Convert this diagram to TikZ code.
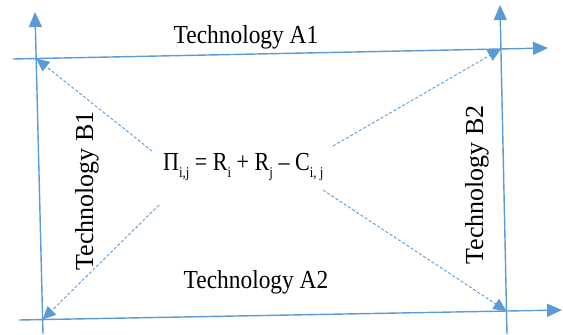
\documentclass[tikz,border=0pt]{standalone}
\usepackage{fontspec}
\setmainfont{Liberation Serif}
\usetikzlibrary{arrows.meta}
\definecolor{axisblue}{HTML}{5B9BD5}
% lowered, smaller index text
\newcommand\lowidx[1]{\raisebox{-0.28em}{\fontsize{15}{15}\selectfont #1}}
\begin{document}
\begin{tikzpicture}[x=1pt,y=-1pt,
  axis/.style={draw=axisblue,line width=1.4pt,-{Triangle[length=15pt,width=13pt]}},
  flow/.style={draw=axisblue,line width=0.9pt,dash pattern=on 3pt off 2pt,-{Triangle[length=13pt,width=12pt]}},
  techtext/.style={font=\fontsize{26}{30}\selectfont,inner sep=0pt},
  htext/.style={techtext,xscale=0.9}]
\useasboundingbox (0,0) rectangle (563,335);

% axis end points
\coordinate (lv0) at (43,334);  \coordinate (lv1) at (35,12);
\coordinate (rv0) at (507,334); \coordinate (rv1) at (500,5);
\coordinate (th0) at (13,59);   \coordinate (th1) at (548,48);
\coordinate (bh0) at (19,320);  \coordinate (bh1) at (562,310);

% corners where the axes cross
\coordinate (tl) at (intersection of lv0--lv1 and th0--th1);
\coordinate (tr) at (intersection of rv0--rv1 and th0--th1);
\coordinate (bl) at (intersection of lv0--lv1 and bh0--bh1);
\coordinate (br) at (intersection of rv0--rv1 and bh0--bh1);

% axes
\draw[axis] (lv0) -- (lv1);
\draw[axis] (rv0) -- (rv1);
\draw[axis] (th0) -- (th1);
\draw[axis] (bh0) -- (bh1);

% labels
\node[htext,anchor=base] (a1) at (246,43) {Technology A1};
\node[htext,anchor=base] (a2) at (256,288) {Technology A2};
\node[techtext,rotate=90,anchor=base] (b1) at (93,191) {Technology B1};
\node[techtext,rotate=90,anchor=base] (b2) at (483,185) {Technology B2};
\node[techtext,xscale=0.85,anchor=base west] (pi) at (163,170)
  {Π\lowidx{i,j} = R\lowidx{i} + R\lowidx{j} – C\lowidx{i, j}};

% dashed links from the formula to the corners
\coordinate (sul) at (152,151);
\coordinate (sll) at (159,205);
\coordinate (sur) at (333,146);
\coordinate (slr) at (323,190);
\draw[flow] (sul) -- (tl);
\draw[flow] (sll) -- (bl);
\draw[flow] (sur) -- (tr);
\draw[flow] (slr) -- (br);
\end{tikzpicture}
\end{document}
